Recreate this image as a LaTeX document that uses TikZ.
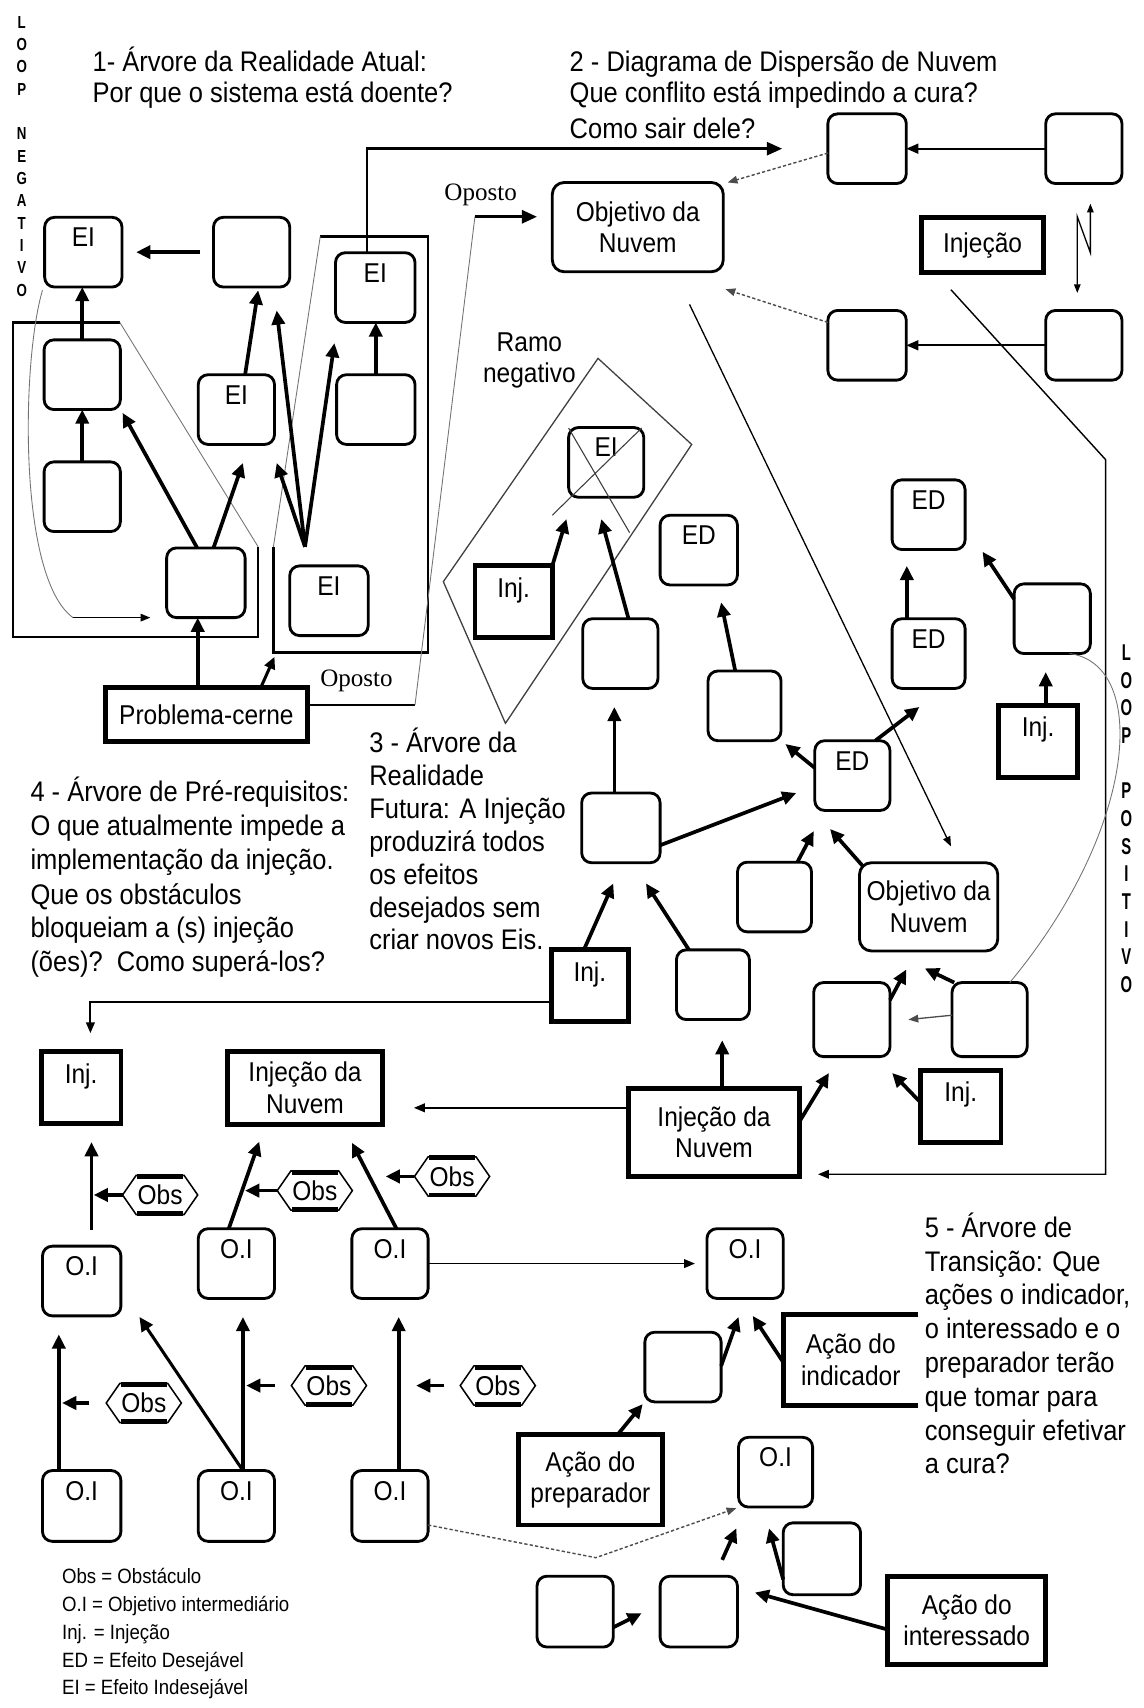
\documentclass[tikz,border=0pt]{standalone}
\usepackage{fontspec}
\setmainfont{Liberation Sans}[FakeStretch=0.9]
\newfontfamily\oposfont{Liberation Serif}
\usetikzlibrary{arrows.meta}
\newcommand\fbig{\fontsize{25}{29}\selectfont}
\newcommand\fttl{\fontsize{26}{30}\selectfont}
\newcommand\fleg{\fontsize{19}{23}\selectfont}
\newcommand\floop{\fontsize{16}{20}\selectfont\bfseries}
\newcommand\floopb{\fontsize{21}{24}\selectfont\bfseries}
\newcommand\fopo{\oposfont\fontsize{23}{27}\selectfont}
\begin{document}
\begin{tikzpicture}[x=1pt,y=-1pt,
  every node/.style={inner sep=0pt, outer sep=0pt},
  rb/.style={draw, line width=2.6pt, rounded corners=9pt, minimum width=70pt, text height=27pt, text depth=37pt, font=\fbig},
  ib/.style={draw, line width=4.4pt, minimum width=72pt, text height=29pt, text depth=37pt, font=\fbig},
  cb/.style={draw, line width=4.4pt, align=center, font=\fbig},
  ob/.style={draw, line width=2.6pt, rounded corners=11pt, align=center, font=\fbig},
  ttl/.style={anchor=base west, font=\fttl},
  leg/.style={anchor=base west, font=\fleg},
  opo/.style={anchor=base west, font=\fopo},
  thk/.style={line width=3.4pt, -{Triangle[length=13pt,width=12pt]}},
  med/.style={line width=1.8pt, -{Triangle[length=11pt,width=9pt]}},
  lnk/.style={line width=2.3pt},
  fine/.style={line width=0.8pt, draw=black!55},
  fina/.style={line width=1.2pt, draw=black!70, -{Triangle[length=9pt,width=7pt]}},
  dsh/.style={line width=1.3pt, dash pattern=on 3pt off 2pt, draw=black!70, -{Triangle[length=9pt,width=7pt]}},
  obs/.pic={
    \draw[line width=1.4pt] (-34.5,0) -- (-22,-18) -- (22,-18) -- (34.5,0) -- (22,18) -- (-22,18) -- cycle;
    \draw[line width=4.5pt] (-21,-17) -- (21,-17) (-21,17) -- (21,17);
    \node[font=\fbig] (-t) at (0,0) {Obs};
    \coordinate (-w) at (-34.5,0);
  }
]
\useasboundingbox (0,0) rectangle (1050,1568);

% ---------- vertical labels ----------
\foreach \c [count=\i] in {L,O,O,P}{\node[font=\floop] (la\i) at (20,{20.3+20.5*(\i-1)}) {\scalebox{0.85}[1]{\c}};}
\foreach \c [count=\i] in {N,E,G,A,T,I,V,O}{\node[font=\floop] (lb\i) at (20,{122.8+20.5*(\i-1)}) {\scalebox{0.85}[1]{\c}};}
\foreach \c [count=\i] in {L,O,O,P}{\node[font=\floopb] (lc\i) at (1034,{599+25.4*(\i-1)}) {\scalebox{0.72}[1]{\c}};}
\foreach \c [count=\i] in {P,O,S,I,T,I,V,O}{\node[font=\floopb] (ld\i) at (1034,{726+25.4*(\i-1)}) {\scalebox{0.72}[1]{\c}};}

% ---------- titles ----------
\node[ttl] (t1a) at (85,66) {1- Árvore da Realidade Atual:};
\node[ttl] (t1b) at (85,94) {Por que o sistema está doente?};
\node[ttl] (t2a) at (523,66) {2 - Diagrama de Dispersão de Nuvem};
\node[ttl] (t2b) at (523,94) {Que conflito está impedindo a cura?};
\node[ttl] (t2c) at (523,127) {Como sair dele?};
\node[ttl] (t3a) at (339,691) {3 - Árvore da};
\node[ttl] (t3b) at (339,721) {Realidade};
\node[ttl] (t3c) at (339,751) {Futura: A Injeção};
\node[ttl] (t3d) at (339,782) {produzirá todos};
\node[ttl] (t3e) at (339,812) {os efeitos};
\node[ttl] (t3f) at (339,842) {desejados sem};
\node[ttl] (t3g) at (339,872) {criar novos Eis.};
\node[ttl] (t4a) at (28,736) {4 - Árvore de Pré-requisitos:};
\node[ttl] (t4b) at (28,767) {O que atualmente impede a};
\node[ttl] (t4c) at (28,798) {implementação da injeção.};
\node[ttl] (t4d) at (28,830) {Que os obstáculos};
\node[ttl] (t4e) at (28,861) {bloqueiam a (s) injeção};
\node[ttl] (t4f) at (28,892) {(ões)?\ \ Como superá-los?};
\node[ttl] (t5a) at (849,1136) {5 - Árvore de};
\node[ttl] (t5b) at (849,1167) {Transição: Que};
\node[ttl] (t5c) at (849,1198) {ações o indicador,};
\node[ttl] (t5d) at (849,1229) {o interessado e o};
\node[ttl] (t5e) at (849,1260) {preparador terão};
\node[ttl] (t5f) at (849,1291) {que tomar para};
\node[ttl] (t5g) at (849,1322) {conseguir efetivar};
\node[ttl] (t5h) at (849,1353) {a cura?};
\node[anchor=base, font=\fbig] (rn1) at (486,323) {Ramo};
\node[anchor=base, font=\fbig] (rn2) at (486,351) {negativo};
\node[opo] (op1) at (408,184) {Oposto};
\node[opo] (op2) at (294,630) {Oposto};

% legend
\node[leg] (g1) at (57,1454) {Obs = Obstáculo};
\node[leg] (g2) at (57,1479) {O.I = Objetivo intermediário};
\node[leg] (g3) at (57,1505) {Inj. = Injeção};
\node[leg] (g4) at (57,1531) {ED = Efeito Desejável};
\node[leg] (g5) at (57,1556) {EI = Efeito Indesejável};

% ---------- section 1 ----------
\node[rb, minimum width=71pt] (ei1) at (76.5,231.5) {EI};
\node[rb] (m1) at (231,231.5) {};
\node[rb, minimum width=73pt] (ei2) at (344.5,264) {EI};
\node[rb] (l1) at (75.5,344) {};
\node[rb] (l2) at (75.5,456) {};
\node[rb, minimum width=72pt] (c1) at (189,535) {};
\node[rb] (ei3) at (217,376) {EI};
\node[rb, minimum width=72pt] (r1) at (345,376) {};
\node[rb, minimum width=72pt] (ei4) at (302,551.5) {EI};
\node[cb, minimum width=185pt, minimum height=50pt] (pc) at (189.5,656) {Problema-cerne};

\draw[lnk] (110,296) -- (12,296) -- (12,585) -- (237,585) -- (237,502);
\draw[fine] (237,502) -- (110,296);
\draw[lnk] (294,217) -- (393,217) -- (393,599) -- (251,599) -- (251,502);
\draw[fine] (251,502) -- (294,217);

\coordinate (cv1) at (67,567);
\coordinate (cv2) at (138,567);
\draw[fine] ([shift={(-2pt,-3pt)}]ei1.south west) .. controls (20,330) and (16,530) .. (cv1);
\draw[line width=1.3pt, -{Triangle[length=9pt,width=7pt]}] (cv1) -- (cv2);

\draw[thk] ([xshift=-12pt]m1.west) -- ([xshift=13pt]ei1.east);
\draw[thk] (l2.north) -- (l1.south);
\draw[thk] (l1.north) -- (l1.north |- ei1.south);
\draw[thk] ([xshift=-8pt]c1.north) -- ([shift={(2pt,-3pt)}]l1.south east);
\draw[thk] ([xshift=7pt]c1.north) -- ([shift={(6pt,-17pt)}]ei3.south);
\draw[thk] ([xshift=8pt]ei3.north) -- ([shift={(6pt,-3pt)}]m1.south);
\coordinate (p1) at (280,502);
\coordinate (p1a) at (254,285);
\coordinate (p1b) at (254,425);
\coordinate (p1c) at (307,315);
\draw[thk] (p1) -- (p1a);
\draw[thk] (p1) -- (p1b);
\draw[thk] (p1) -- (p1c);
\draw[thk] (r1.north) -- (r1.north |- ei2.south);
\draw[thk] ([xshift=-8pt]pc.north) -- ([xshift=-8pt]pc.north |- c1.south);
\coordinate (pt1) at (252,603);
\draw[line width=2.8pt, -{Triangle[length=11pt,width=10pt]}] ([xshift=50pt]pc.north) -- (pt1);

% ---------- section 2 ----------
\node[rb, minimum width=72pt] (s2a) at (796,136.5) {};
\node[rb] (s2b) at (995,136.5) {};
\node[rb, minimum width=72pt] (s2c) at (796,317) {};
\node[rb] (s2d) at (995,317) {};
\node[ob, minimum width=157pt, minimum height=82pt] (obj2) at (585.5,208.5) {Objetivo da\\Nuvem};
\node[cb, minimum width=112pt, minimum height=50pt] (inj2) at (902,225) {Injeção};

\draw[lnk, -{Triangle[length=14pt,width=12pt]}] ([xshift=-7.5pt]ei2.north) |- ([xshift=-42pt]s2a.west);
\coordinate (q1) at (381,647);
\coordinate (q2) at (436,199);
\draw[lnk] ([yshift=9pt]pc.east) -- (q1);
\draw[fine] (q1) -- (q2);
\draw[line width=2.8pt, -{Triangle[length=14pt,width=12pt]}] (q2) -- ([shift={(-14pt,9.5pt)}]obj2.west);

\draw[med] (s2b.west) -- (s2a.east);
\draw[med] (s2d.west) -- (s2c.east);
\draw[dsh] ([yshift=-4pt]s2a.west) -- ([shift={(4pt,0pt)}]obj2.north east);
\draw[dsh] ([yshift=21pt]s2c.west) -- ([shift={(2pt,-16pt)}]obj2.south east);
\coordinate (z1) at (989,269);
\coordinate (z2) at (989,199);
\coordinate (z3) at (1001,232);
\coordinate (z4) at (1001,187);
\draw[line width=1.2pt, {Triangle[length=8pt,width=6pt]}-{Triangle[length=8pt,width=6pt]}] (z1) -- (z2) -- (z3) -- (z4);

% ---------- section 3 ----------
\node[rb, minimum width=69pt] (ei5) at (556.5,424.5) {EI};
\node[rb, minimum width=69pt] (s3a) at (569.5,600) {};
\node[rb, minimum width=71pt] (ed1) at (641.5,505) {ED};
\node[rb, minimum width=67pt] (s3b) at (683.5,648) {};
\node[rb, minimum width=67pt] (ed2) at (852.5,472.5) {ED};
\node[rb, minimum width=67pt] (ed3) at (852.5,600) {ED};
\node[rb] (s3c) at (966,568) {};
\node[rb, minimum width=69pt] (ed4) at (782.5,712) {ED};
\node[rb, minimum width=72pt] (s3m) at (570,760) {};
\node[rb, minimum width=68pt] (s3d) at (711,823.5) {};
\node[ob, minimum width=127pt, minimum height=81pt] (obj3) at (852.5,832.5) {Objetivo da\\Nuvem};
\node[rb, minimum width=67pt] (s3e) at (654.5,904) {};
\node[rb, minimum height=68pt] (s3f) at (782,936) {};
\node[rb, minimum width=69pt, minimum height=68pt] (s3g) at (908.5,936) {};
\node[ib, minimum width=71pt] (inj3a) at (471.5,552.5) {Inj.};
\node[ib] (inj3b) at (953,680.5) {Inj.};
\node[ib, minimum width=71pt] (inj3c) at (541.5,905) {Inj.};
\node[ib, minimum width=74pt] (inj3d) at (882,1015.5) {Inj.};
\node[cb, minimum width=157pt, minimum height=81pt] (nuv3) at (655.5,1039.5) {Injeção da\\Nuvem};

\draw[line width=1.2pt, draw=black!75] (549,329) -- (635,408) -- (464,664) -- (407,534) -- cycle;
\draw[line width=1pt, draw=black!75] (522,393) -- (578,489) (589,393) -- (507,473);

\coordinate (k1) at (1015,422);
\coordinate (k2) at (1015,1078);
\draw[line width=1.3pt, -{Triangle[length=10pt,width=8pt]}] ([shift={(-29pt,-16pt)}]inj2.south) -- (k1) -- (k2) -- ([shift={(17pt,2pt)}]nuv3.south east);
\draw[line width=1.2pt, -{Triangle[length=9pt,width=7pt]}] ([shift={(47.5pt,-30pt)}]obj2.south) -- ([shift={(20.5pt,15pt)}]obj3.north);

\draw[thk] (inj3a.north east) -- ([shift={(-36.5pt,-20pt)}]ei5.south);
\draw[thk] ([xshift=7.5pt]s3a.north) -- ([shift={(-4.5pt,-20pt)}]ei5.south);
\draw[thk] ([xshift=-8.5pt]s3b.north) -- ([shift={(20.5pt,-16pt)}]ed1.south);
\draw[thk] ([xshift=-20pt]ed3.north) -- ([shift={(-20pt,-15pt)}]ed2.south);
\draw[thk] ([yshift=-14pt]s3c.north west) -- ([shift={(16pt,-2pt)}]ed2.south east);
\draw[thk] ([xshift=7pt]inj3b.north) -- ([shift={(-6pt,-17pt)}]s3c.south);
\draw[thk] ([yshift=7pt]ed4.west) -- ([shift={(4pt,-3pt)}]s3b.south east);
\draw[thk] ([xshift=-13.5pt]ed4.north east) -- ([shift={(25pt,-17pt)}]ed3.south west);
\draw[thk] ([xshift=-6pt]s3m.north) -- ([shift={(-5.5pt,-17pt)}]s3a.south);
\draw[thk] ([yshift=-16pt]s3m.east) -- ([shift={(-17pt,-16pt)}]ed4.west);
\draw[thk] ([xshift=21pt]s3d.north) -- ([shift={(-35.5pt,-19pt)}]ed4.south);
\draw[thk] ([shift={(3pt,-3pt)}]obj3.north west) -- ([shift={(-20.5pt,-17pt)}]ed4.south);
\draw[thk] ([xshift=-5.5pt]inj3c.north) -- ([shift={(-7pt,-19pt)}]s3m.south);
\draw[thk] ([xshift=-22pt]s3e.north) -- ([shift={(23pt,-19pt)}]s3m.south);
\draw[thk] ([xshift=7.5pt]nuv3.north) -- ([shift={(8.5pt,-19pt)}]s3e.south);
\draw[thk] ([yshift=10pt]nuv3.east) -- ([shift={(14pt,-15pt)}]s3f.south west);
\draw[thk] ([yshift=-16pt]s3f.north east) -- ([shift={(-20.5pt,-17pt)}]obj3.south);
\draw[thk] ([xshift=2pt]s3g.north west) -- ([shift={(-3.5pt,-16pt)}]obj3.south);
\draw[fina] ([yshift=4pt]s3g.west) -- ([xshift=17pt]s3f.east);
\draw[fine] ([xshift=16pt]s3c.south) .. controls (1055,610) and (1045,760) .. ([xshift=18.5pt]s3g.north);
\draw[thk] ([yshift=3.5pt]inj3d.west) -- ([shift={(2pt,-15pt)}]s3f.south east);

% ---------- section 4 ----------
\node[ib, minimum width=73pt] (inj4) at (74.5,998.5) {Inj.};
\node[cb, minimum width=142pt, minimum height=67pt] (nuv4) at (280,998.5) {Injeção da\\Nuvem};
\node[rb, minimum width=72pt] (oi1) at (75,1176) {O.I};
\node[rb] (oi2) at (217,1160) {O.I};
\node[rb] (oi3) at (358,1160) {O.I};
\node[rb, minimum width=72pt, minimum height=65pt] (oi4) at (75,1382.5) {O.I};
\node[rb, minimum height=65pt] (oi5) at (217,1382.5) {O.I};
\node[rb, minimum height=65pt] (oi6) at (358,1382.5) {O.I};
\pic (o1) at (147,1097) {obs};
\pic (o2) at (289,1093) {obs};
\pic (o3) at (415,1080) {obs};
\pic (o4) at (132,1288) {obs};
\pic (o5) at (302,1272) {obs};
\pic (o6) at (457,1272) {obs};

\draw[line width=1.8pt, -{Triangle[length=10pt,width=8pt]}] ([yshift=-15pt]inj3c.west) -| ([shift={(8.5pt,17pt)}]inj4.north);
\draw[line width=1.4pt, -{Triangle[length=10pt,width=8pt]}] ([yshift=22.5pt]nuv3.west) -- ([shift={(29pt,-18.5pt)}]nuv4.east);

\draw[thk] ([shift={(9pt,15pt)}]oi1.north) -- ([shift={(9.5pt,-17pt)}]inj4.south);
\draw[thk] ([xshift=-7pt]oi2.north) -- ([shift={(-42pt,-16pt)}]nuv4.south);
\draw[thk] ([xshift=6pt]oi3.north) -- ([shift={(43pt,-17pt)}]nuv4.south);
\draw[thk] ([xshift=-21pt]oi4.north) -- ([shift={(-21pt,-17pt)}]oi1.south);
\draw[thk] ([xshift=6pt]oi5.north) -- ([shift={(6pt,-17pt)}]oi2.south);
\draw[line width=2.8pt, -{Triangle[length=13pt,width=12pt]}] ([xshift=6pt]oi5.north) -- ([shift={(17pt,-1pt)}]oi1.south east);
\draw[thk] ([xshift=8pt]oi6.north) -- ([shift={(8pt,-17pt)}]oi3.south);

\coordinate (ob1) at (86,1097);
\coordinate (ob2) at (225,1093);
\coordinate (ob3) at (354,1080);
\coordinate (ob4s) at (82,1288);
\coordinate (ob4) at (57,1288);
\coordinate (ob5s) at (252,1272);
\coordinate (ob5) at (226,1272);
\coordinate (ob6s) at (408,1272);
\coordinate (ob6) at (382,1272);
\draw[thk] (o1-w) -- (ob1);
\draw[thk] (o2-w) -- (ob2);
\draw[thk] (o3-w) -- (ob3);
\draw[thk] (ob4s) -- (ob4);
\draw[thk] (ob5s) -- (ob5);
\draw[thk] (ob6s) -- (ob6);

% ---------- section 5 ----------
\node[rb] (oi7) at (684,1160) {O.I};
\node[rb] (s5a) at (627,1255) {};
\node[rb, minimum width=68pt] (oi8) at (712,1351.5) {O.I};
\node[rb, minimum height=65pt] (s5b) at (528,1479.5) {};
\node[rb, minimum width=71pt, minimum height=65pt] (s5c) at (641.5,1479.5) {};
\node[rb, minimum width=71pt, minimum height=66pt] (s5d) at (754.5,1431) {};
\node[cb, minimum width=132pt, minimum height=83pt] (prep) at (542,1358.5) {Ação do\\preparador};
\node[cb, minimum width=145pt, minimum height=81pt] (inter) at (887.5,1487.5) {Ação do\\interessado};
\node[align=center, font=\fbig, minimum width=124pt, minimum height=83pt] (indic) at (781,1248.5) {Ação do\\indicador};
\draw[line width=4.4pt] (indic.north east) -- (indic.north west) -- (indic.south west) -- (indic.south east);

\draw[line width=1.4pt, -{Triangle[length=10pt,width=8pt]}] (oi3.east) -- ([xshift=-11pt]oi7.west);
\draw[thk] ([yshift=1pt]s5a.east) -- ([shift={(-6pt,-17pt)}]oi7.south);
\draw[thk] ([yshift=-2pt]indic.west) -- ([shift={(7pt,-16pt)}]oi7.south);
\draw[thk] ([xshift=25pt]prep.north) -- ([shift={(-2pt,-2pt)}]s5a.south west);
\coordinate (dv) at (547,1430);
\draw[dsh] ([yshift=-17.5pt]oi6.east) -- (dv) -- ([shift={(-2pt,-1pt)}]oi8.south west);
\draw[thk] ([yshift=-14.5pt]s5b.east) -- ([shift={(-17pt,-1.5pt)}]s5c.west);
\draw[thk] ([shift={(21.5pt,15pt)}]s5c.north) -- ([shift={(-36pt,-19.5pt)}]oi8.south);
\draw[thk] ([yshift=-19pt]s5d.west) -- ([shift={(-6pt,-19.5pt)}]oi8.south);
\draw[thk] ([yshift=-8.5pt]inter.west) -- ([shift={(16pt,17.5pt)}]s5c.east);
\end{tikzpicture}
\end{document}
